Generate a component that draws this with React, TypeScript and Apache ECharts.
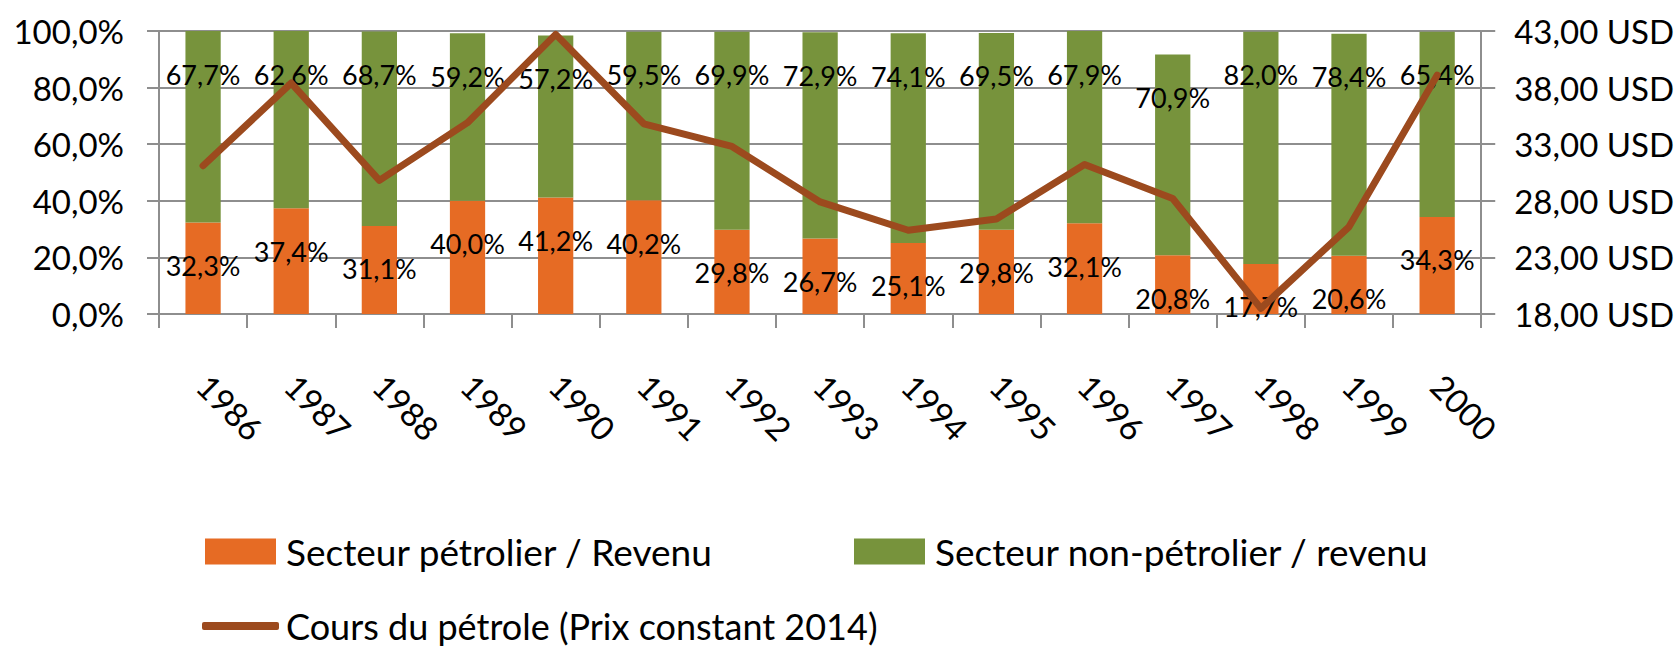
import React, { useEffect, useRef } from "react";
import * as echarts from "echarts";

const years = ["1986", "1987", "1988", "1989", "1990", "1991", "1992", "1993", "1994", "1995", "1996", "1997", "1998", "1999", "2000"];
const oilShare = [32.3, 37.4, 31.1, 40.0, 41.2, 40.2, 29.8, 26.7, 25.1, 29.8, 32.1, 20.8, 17.7, 20.6, 34.3];
const nonOilShare = [67.7, 62.6, 68.7, 59.2, 57.2, 59.5, 69.9, 72.9, 74.1, 69.5, 67.9, 70.9, 82.0, 78.4, 65.4];
const oilPrice = [31.1, 38.4, 29.8, 34.9, 42.7, 34.8, 32.8, 27.9, 25.4, 26.4, 31.2, 28.2, 18.5, 25.7, 39.1];
const seriesNames = [
  "Secteur pétrolier / Revenu",
  "Secteur non-pétrolier / revenu",
  "Cours du pétrole (Prix constant 2014)",
];

const FONT = "Lato, 'Open Sans', sans-serif";
const GRID = "#8E8E8E";
const ORANGE = "#E66B24";
const GREEN = "#77933C";
const BROWN = "#9C4A1E";

const pct = (v: number) => v.toFixed(1).replace(".", ",") + "%";
const usd = (v: number) => v.toFixed(2).replace(".", ",") + " USD";

export default function App() {
  const ref = useRef<HTMLDivElement>(null);
  useEffect(() => {
    document.body.style.margin = "0";
    if (!ref.current) return;
    const chart = echarts.init(ref.current, undefined, { renderer: "svg" });
    const barLabel = {
      show: true,
      position: "insideTop",
      distance: 29,
      formatter: (p: any) => pct(p.value),
      fontFamily: FONT,
      fontSize: 27,
      lineHeight: 28,
      color: "#000",
    };
    const legendText = { fontFamily: FONT, fontSize: 37, lineHeight: 26, color: "#000" };
    chart.setOption({
      animation: false,
      backgroundColor: "#fff",
      grid: { left: 159, right: 195, top: 31, bottom: 334 },
      legend: [
        {
          data: [seriesNames[0]], left: 205, top: 533, padding: 0, itemWidth: 71, itemHeight: 26,
          icon: "rect", textStyle: { ...legendText, padding: [0, 0, 0, 5] },
        },
        {
          data: [seriesNames[1]], left: 854, top: 533, padding: 0, itemWidth: 71, itemHeight: 26,
          icon: "rect", textStyle: { ...legendText, padding: [0, 0, 0, 5] },
        },
        {
          data: [seriesNames[2]], left: 202, top: 608, padding: 0, itemWidth: 77, itemHeight: 8,
          icon: "roundRect", itemStyle: { color: BROWN },
          textStyle: { ...legendText, fontSize: 36, padding: [0, 0, 0, 2] },
        },
      ],
      xAxis: {
        type: "category",
        data: years,
        axisLine: { show: true, lineStyle: { color: GRID, width: 2 } },
        axisTick: { show: true, length: 14, lineStyle: { color: GRID, width: 2 } },
        axisLabel: { rotate: -45, interval: 0, margin: 66, fontFamily: FONT, fontSize: 33, color: "#000" },
      },
      yAxis: [
        {
          type: "value", min: 0, max: 100, interval: 20,
          axisLine: { show: true, lineStyle: { color: GRID, width: 2 } },
          axisTick: { show: true, length: 12, lineStyle: { color: GRID, width: 2 } },
          splitLine: { show: true, lineStyle: { color: GRID, width: 2 } },
          axisLabel: { formatter: pct, margin: 35, fontFamily: FONT, fontSize: 33, color: "#000" },
        },
        {
          type: "value", min: 18, max: 43, interval: 5, position: "right",
          axisLine: { show: true, lineStyle: { color: GRID, width: 2 } },
          axisTick: { show: true, length: 14, lineStyle: { color: GRID, width: 2 } },
          splitLine: { show: false },
          axisLabel: { formatter: usd, margin: 33, fontFamily: FONT, fontSize: 33, color: "#000" },
        },
      ],
      series: [
        {
          name: seriesNames[0], type: "bar", stack: "rev", data: oilShare, barWidth: "40%",
          itemStyle: { color: ORANGE }, label: barLabel,
        },
        {
          name: seriesNames[1], type: "bar", stack: "rev", data: nonOilShare, barWidth: "40%",
          itemStyle: { color: GREEN }, label: barLabel,
        },
        {
          name: seriesNames[2], type: "line", yAxisIndex: 1, data: oilPrice, symbol: "none", z: 5,
          itemStyle: { color: BROWN },
          lineStyle: { color: BROWN, width: 7, cap: "round", join: "round" },
        },
      ],
    });
    return () => chart.dispose();
  }, []);
  return <div ref={ref} style={{ width: 1677, height: 648 }} />;
}
